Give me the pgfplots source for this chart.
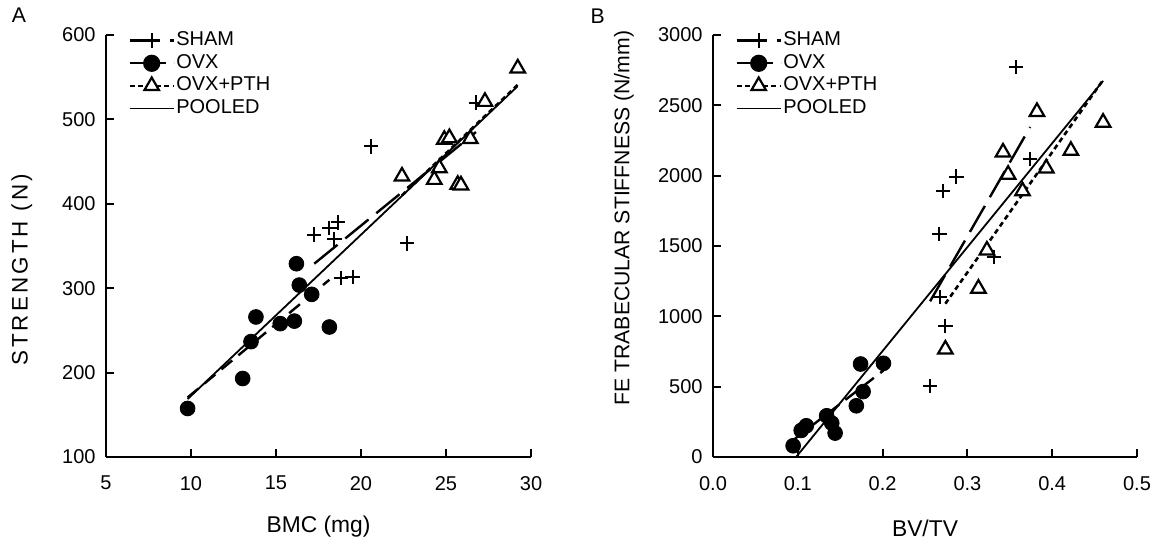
\documentclass[border=0pt]{standalone}
\usepackage{fontspec}
\setmainfont{Liberation Sans}
\usepackage{pgfplots}
\pgfplotsset{compat=1.18}

\pgfplotsset{
  shamline/.style={black, line width=1.2pt, dash pattern=on 15pt off 5pt},
  ovxline/.style={black, line width=1.2pt, dash pattern=on 7pt off 4pt},
  pthline/.style={black, line width=1.3pt, dash pattern=on 2.5pt off 1.8pt},
  pooledline/.style={black, line width=0.9pt, solid},
  shammark/.style={mark=+, mark size=3.6pt, mark options={solid, line width=1pt}},
  ovxmark/.style={mark=*, mark size=3.7pt, mark options={solid, fill=black}},
  pthmark/.style={mark=triangle*, mark size=4.2pt, mark options={solid, fill=white, line width=1.1pt}},
  panel/.style={
    scale only axis, height=211pt,
    axis x line*=bottom, axis y line*=left,
    axis line style={line width=1pt, -},
    every outer x axis line/.append style={-},
    every outer y axis line/.append style={-},
    tick style={line width=1pt, black},
    major tick length=4pt, tick align=inside,
    ticklabel style={font=\fontsize{10}{12}\selectfont},
    xticklabel shift=6pt, yticklabel shift=1.7pt,
    /pgf/number format/assume math mode=true,
    /pgf/number format/1000 sep={},
    scaled ticks=false, clip=false,
    xlabel style={font=\fontsize{11.4}{13}\selectfont, at={(axis description cs:0.5,0)}, anchor=center},
    legend cell align=left,
    legend image code/.code={\draw[mark repeat=2,mark phase=2,##1] plot coordinates {(0pt,0pt)(11pt,0pt)(22pt,0pt)};},
    legend style={at={(axis description cs:0,1)}, anchor=north west, xshift=11pt, yshift=3pt,
      draw=none, fill=none, inner sep=0pt, row sep=0pt,
      font=\fontsize{10}{12}\selectfont,
      nodes={inner sep=0.65pt, text height=7.5pt, text depth=2.5pt}},
  },
}

\begin{document}
\begin{tikzpicture}
\useasboundingbox (0,0) rectangle (582.5pt,269.5pt);

% A: strength vs BMC
\begin{axis}[panel, at={(53pt,41pt)}, anchor=south west, width=212.5pt,
  xmin=5, xmax=30, ymin=100, ymax=600,
  xtick={5,10,...,30}, ytick={100,200,...,600},
  xlabel={BMC (mg)}, xlabel style={yshift=-35pt},
  ylabel={\addfontfeatures{LetterSpace=14}STRENGTH (N)},
  ylabel style={font=\fontsize{11.2}{13}\selectfont, at={(axis description cs:-0.198,0.443)}, anchor=center},
]
\addlegendimage{shamline, shammark}
\addlegendentry{SHAM}
\addlegendimage{ovxline, ovxmark}
\addlegendentry{OVX}
\addlegendimage{pthline, pthmark}
\addlegendentry{OVX+PTH}
\addlegendimage{pooledline}
\addlegendentry{POOLED}

\addplot[forget plot, pooledline] coordinates {(9.8,168.6) (29.2,539)};
\addplot[forget plot, ovxline] coordinates {(9.8,170.5) (18.14,310)};
\addplot[forget plot, shamline] coordinates {(17.25,329) (26.76,485)};
\addplot[forget plot, pthline] coordinates {(22.41,410) (29.22,541)};

\addplot[forget plot, only marks, ovxmark] coordinates {
  (9.8,157.5) (13.04,193) (13.53,236.7) (13.82,265.9) (15.25,258)
  (16.08,261) (16.2,329) (16.37,303.7) (17.1,292.7) (18.14,254)};
\addplot[forget plot, only marks, shammark] coordinates {
  (20.59,468) (17.25,363.6) (18.14,371.5) (18.63,378) (18.43,357.7)
  (18.82,312) (19.5,313) (22.7,353) (26.76,520)};
\addplot[forget plot, only marks, pthmark] coordinates {
  (29.22,560.6) (27.29,521) (24.9,476) (25.2,478) (26.43,477)
  (22.41,432.5) (24.61,442.4) (24.31,428.6) (25.69,422.7) (25.88,422)};
\end{axis}

% B: FE stiffness vs BV/TV
\begin{axis}[panel, at={(356.5pt,41pt)}, anchor=south west, width=212pt,
  xmin=0, xmax=0.5, ymin=0, ymax=3000,
  xtick={0,0.1,0.2,0.3,0.4,0.5}, ytick={0,500,...,3000},
  xticklabel style={/pgf/number format/.cd, fixed, fixed zerofill, precision=1},
  xlabel={BV/TV}, xlabel style={yshift=-35.5pt},
  ylabel={FE TRABECULAR STIFFNESS (N/mm)},
  ylabel style={font=\fontsize{10.6}{12}\selectfont, at={(axis description cs:-0.21,0.566)}, anchor=center},
]
\addlegendimage{shamline, shammark}
\addlegendentry{SHAM}
\addlegendimage{ovxline, ovxmark}
\addlegendentry{OVX}
\addlegendimage{pthline, pthmark}
\addlegendentry{OVX+PTH}
\addlegendimage{pooledline}
\addlegendentry{POOLED}

\addplot[forget plot, pooledline] coordinates {(0.098,0) (0.46,2674)};
\addplot[forget plot, ovxline] coordinates {(0.0945,120) (0.201,615)};
\addplot[forget plot, shamline] coordinates {(0.256,1107) (0.374,2346)};
\addplot[forget plot, pthline] coordinates {(0.274,1090) (0.46,2680)};

\addplot[forget plot, only marks, ovxmark] coordinates {
  (0.0945,80) (0.104,189) (0.110,222) (0.134,293) (0.140,241)
  (0.144,170) (0.169,364) (0.177,465) (0.174,661) (0.201,666)};
\addplot[forget plot, only marks, shammark] coordinates {
  (0.357,2773) (0.287,1994) (0.271,1890) (0.267,1587) (0.331,1422)
  (0.374,2119) (0.268,1138) (0.274,931) (0.256,505)};
\addplot[forget plot, only marks, pthmark] coordinates {
  (0.382,2454) (0.460,2378) (0.342,2166) (0.422,2178) (0.348,2008)
  (0.393,2053) (0.365,1890) (0.323,1469) (0.313,1198) (0.274,765)};
\end{axis}

\node[font=\fontsize{10.6}{12}\selectfont] at (9.5pt,261.8pt) {A};
\node[font=\fontsize{10.6}{12}\selectfont] at (298.8pt,261.3pt) {B};
\end{tikzpicture}
\end{document}
